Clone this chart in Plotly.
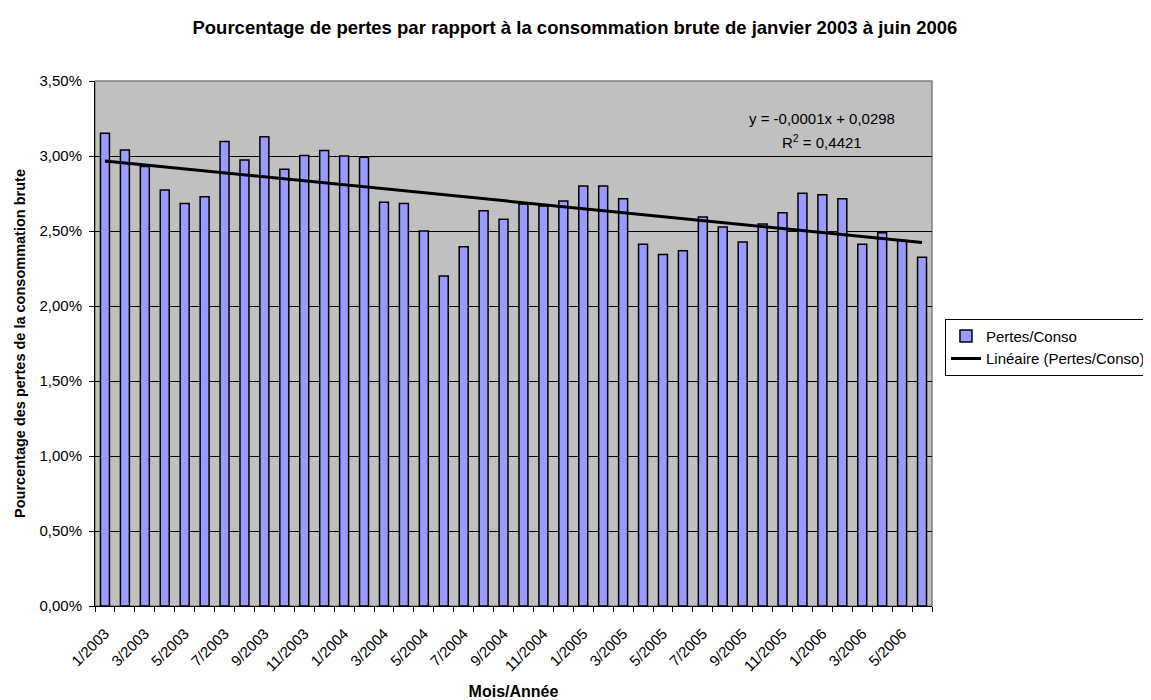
import numpy as np
import plotly.graph_objects as go

# month labels, Jan 2003 -> Jun 2006
months = [f"{m}/{y}" for y in (2003, 2004, 2005) for m in range(1, 13)] + \
         [f"{m}/2006" for m in range(1, 7)]

# losses / gross consumption (fraction)
pertes_conso = [
    0.03151, 0.03040, 0.02930, 0.02773, 0.02684, 0.02729, 0.03096, 0.02973,
    0.03129, 0.02911, 0.03004, 0.03036, 0.03000, 0.02991, 0.02691, 0.02684,
    0.02500, 0.02200, 0.02395, 0.02635, 0.02578, 0.02680, 0.02667, 0.02700,
    0.02800, 0.02800, 0.02715, 0.02411, 0.02344, 0.02369, 0.02593, 0.02527,
    0.02427, 0.02547, 0.02622, 0.02751, 0.02742, 0.02715, 0.02411, 0.02489,
    0.02436, 0.02325,
]

equation_text = "y = -0,0001x + 0,0298"
r2_text = "R<sup>2</sup> = 0,4421"

# linear trend (Excel style, x = 1..n)
xs = np.arange(1, len(pertes_conso) + 1)
slope, intercept = np.polyfit(xs, pertes_conso, 1)
trend = slope * xs + intercept

font = "Liberation Sans, Arial, sans-serif"

fig = go.Figure()
fig.add_trace(go.Bar(
    x=months, y=pertes_conso, name="Pertes/Conso",
    marker=dict(color="#9999FF", line=dict(color="black", width=1.5)),
))
fig.add_trace(go.Scatter(
    x=months, y=trend, name="Linéaire (Pertes/Conso)", mode="lines",
    line=dict(color="black", width=3),
))

# trendline equation, two lines like Excel
fig.add_annotation(xref="paper", yref="paper", x=0.869, y=0.9295,
                   xanchor="center", yanchor="middle", showarrow=False,
                   text=equation_text, font=dict(size=15))
fig.add_annotation(xref="paper", yref="paper", x=0.869, y=0.8857,
                   xanchor="center", yanchor="middle", showarrow=False,
                   text=r2_text, font=dict(size=15))

# page body has an 8px margin, so the figure is 8px smaller each way
fig.update_layout(
    width=1143, height=692,
    margin=dict(l=87, r=219, t=73, b=94, autoexpand=False),
    paper_bgcolor="white", plot_bgcolor="#C0C0C0",
    separators=", ",
    font=dict(family=font, size=15, color="black"),
    bargap=0.55,
    title=dict(
        text="<b>Pourcentage de pertes par rapport à la consommation brute de janvier 2003 à juin 2006</b>",
        xref="container", x=0.496, xanchor="center", y=0.9725, yanchor="middle",
        font=dict(size=18.5),
    ),
    legend=dict(
        x=1.0155, xanchor="left", y=0.547, yanchor="top",
        bgcolor="white", bordercolor="black", borderwidth=1,
        font=dict(size=15), tracegroupgap=0,
    ),
    xaxis=dict(
        tickmode="array", tickvals=months,
        ticktext=[m if i % 2 == 0 else "" for i, m in enumerate(months)],
        tickson="boundaries", ticks="outside", ticklen=5, tickcolor="black",
        tickangle=-45, showgrid=False, showline=True, linecolor="black",
        tickfont=dict(size=15), ticklabelstandoff=12,
        title=dict(text="<b>Mois/Année</b>", font=dict(size=16), standoff=12),
    ),
    yaxis=dict(
        range=[0, 0.035], dtick=0.005, tickformat=".2%",
        ticks="outside", ticklen=5, tickcolor="black",
        showgrid=True, gridcolor="black", gridwidth=1,
        showline=True, linecolor="black", zeroline=False,
        tickfont=dict(size=15), ticklabelstandoff=4,
        title=dict(text="<b>Pourcentage des pertes de la consommation brute</b>",
                   font=dict(size=14.5), standoff=10),
    ),
)

# grey frame round the plot area (top/right)
fig.add_shape(type="rect", xref="paper", yref="paper", x0=0, y0=0, x1=1, y1=1,
              line=dict(color="#808080", width=1.5), layer="below")

fig.write_html("out.html")
